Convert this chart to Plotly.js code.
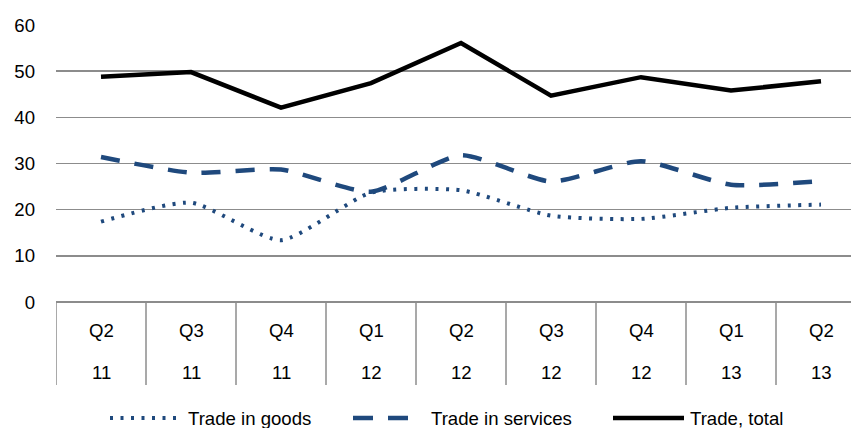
<!DOCTYPE html>
<html>
<head>
<meta charset="utf-8">
<script src="https://cdn.plot.ly/plotly-3.0.1.min.js"></script>
<style>
html,body{margin:0;padding:0;background:#fff;overflow:hidden;}
#chart{width:851px;height:428px;}
</style>
</head>
<body>
<div id="chart"></div>
<script>
// ---- data ----
const quarters = ["Q2","Q3","Q4","Q1","Q2","Q3","Q4","Q1","Q2"];
const years    = ["11","11","11","12","12","12","12","13","13"];
const tradeGoods    = [17.4, 21.5, 13.4, 23.7, 24.2, 18.7, 18.0, 20.4, 21.1];
const tradeServices = [31.4, 28.0, 28.7, 23.9, 31.8, 26.1, 30.5, 25.4, 26.2];
const tradeTotal    = [48.8, 49.8, 42.1, 47.4, 56.1, 44.7, 48.7, 45.8, 47.8];
const seriesNames = ["Trade in goods", "Trade in services", "Trade, total"];
const yTicks = [0, 10, 20, 30, 40, 50, 60];

// ---- layout constants ----
const W = 851, H = 428;
const L = 56, T = 25, B = 126, R = 0;
const plotW = W - L - R, plotH = H - T - B;
const catW = 90;
const blue = "#1F497D";
const grid = "#8C8C8C";
const font = "Liberation Sans, Arial, sans-serif";
const fs = 18.6;
const idx = quarters.map((_, i) => i);

const py = p => (H - B - p) / plotH;   // pixel y -> paper y
const px = p => (p - L) / plotW;       // pixel x -> paper x

const traces = [
  {x: idx, y: tradeGoods, name: seriesNames[0], mode: "lines",
   line: {color: blue, width: 4, dash: "3px,7.5px", shape: "spline", smoothing: 0.6}},
  {x: idx, y: tradeServices, name: seriesNames[1], mode: "lines",
   line: {color: blue, width: 4.5, dash: "19px,15px", shape: "spline", smoothing: 0.6}},
  {x: idx, y: tradeTotal, name: seriesNames[2], mode: "lines",
   line: {color: "#000000", width: 4.5}}
];

const shapes = [];
const annotations = [];
// category separators
idx.forEach(i => {
  shapes.push({type: "line", xref: "x", yref: "paper", x0: i - 0.5, x1: i - 0.5,
    y0: 0, y1: py(385), line: {color: grid, width: 1.5}});
});
// two-level category labels
idx.forEach(i => {
  annotations.push({xref: "x", yref: "paper", x: i, y: py(330), text: quarters[i],
    showarrow: false, xanchor: "center", yanchor: "middle",
    font: {family: font, size: fs, color: "#000"}});
  annotations.push({xref: "x", yref: "paper", x: i, y: py(372), text: years[i],
    showarrow: false, xanchor: "center", yanchor: "middle",
    font: {family: font, size: fs, color: "#000"}});
});
// custom legend
const legY = py(418);
shapes.push({type: "line", xref: "paper", yref: "paper", x0: px(110), x1: px(179),
  y0: legY, y1: legY, line: {color: blue, width: 4, dash: "3px,7.5px"}});
shapes.push({type: "line", xref: "paper", yref: "paper", x0: px(353), x1: px(408),
  y0: legY, y1: legY, line: {color: blue, width: 4.5, dash: "20px,15px"}});
shapes.push({type: "line", xref: "paper", yref: "paper", x0: px(613), x1: px(684),
  y0: legY, y1: legY, line: {color: "#000", width: 4.5}});
const legX = [186, 429, 688];
seriesNames.forEach((n, k) => {
  annotations.push({xref: "paper", yref: "paper", x: px(legX[k]), y: legY, text: n,
    showarrow: false, xanchor: "left", yanchor: "middle",
    font: {family: font, size: fs, color: "#000"}});
});

const layout = {
  width: W, height: H,
  margin: {l: L, r: R, t: T, b: B, pad: 0},
  paper_bgcolor: "#fff", plot_bgcolor: "#fff",
  showlegend: false,
  font: {family: font, size: fs, color: "#000"},
  xaxis: {range: [-0.5, -0.5 + plotW / catW], showgrid: false, zeroline: false,
    showticklabels: false, ticks: "", showline: false, fixedrange: true},
  yaxis: {range: [0, 60], tickvals: yTicks, ticktext: yTicks.map(String),
    showgrid: true, gridcolor: grid, gridwidth: 1.5,
    zeroline: true, zerolinecolor: grid, zerolinewidth: 1.5,
    showline: false, ticks: "", ticklabelstandoff: 20,
    tickfont: {family: font, size: fs, color: "#000"}, fixedrange: true},
  shapes: shapes,
  annotations: annotations
};

Plotly.newPlot("chart", traces, layout, {staticPlot: true, displayModeBar: false});
</script>
</body>
</html>
